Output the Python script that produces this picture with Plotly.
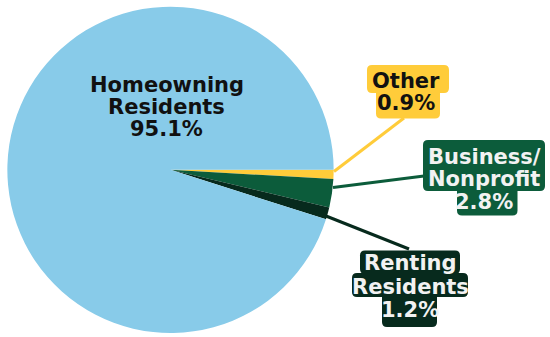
import plotly.graph_objects as go

# Share of properties by owner type
categories = ["Other", "Business/Nonprofit", "Renting Residents", "Homeowning Residents"]
values = [0.9, 2.8, 1.2, 95.1]
slice_colors = ["#FFCC3A", "#0C5C3B", "#072A1D", "#88CBE9"]

W, H = 550, 337
FONT = "DejaVu Sans"


def px(x):
    return x / W


def py(y):
    return 1 - y / H


def rrect(x0, y0, x1, y1, r=5):
    """Rounded rectangle path (pixel input, paper output)."""
    pts = [
        ("M", [(x0 + r, y0)]),
        ("L", [(x1 - r, y0)]),
        ("Q", [(x1, y0), (x1, y0 + r)]),
        ("L", [(x1, y1 - r)]),
        ("Q", [(x1, y1), (x1 - r, y1)]),
        ("L", [(x0 + r, y1)]),
        ("Q", [(x0, y1), (x0, y1 - r)]),
        ("L", [(x0, y0 + r)]),
        ("Q", [(x0, y0), (x0 + r, y0)]),
    ]
    s = ""
    for cmd, ps in pts:
        s += cmd + " " + " ".join(f"{px(a):.5f},{py(b):.5f}" for a, b in ps) + " "
    return s + "Z"


fig = go.Figure(
    go.Pie(
        labels=categories,
        values=values,
        marker=dict(colors=slice_colors, line=dict(width=0)),
        sort=False,
        direction="clockwise",
        rotation=90,
        textinfo="none",
        hoverinfo="label+percent",
        domain=dict(x=[px(7), px(334)], y=[py(333), py(6.7)]),
        showlegend=False,
    )
)

shapes = []
annotations = []

# leader lines from slices to their labels
leaders = [
    ((334, 171.5), (404, 118), slice_colors[0]),
    ((333, 187.5), (424, 176), slice_colors[1]),
    ((326, 216), (409, 249), slice_colors[2]),
]
for (xa, ya), (xb, yb), c in leaders:
    shapes.append(dict(type="line", xref="paper", yref="paper",
                       x0=px(xa), y0=py(ya), x1=px(xb), y1=py(yb),
                       line=dict(color=c, width=3), layer="above"))

# label boxes: (x0, y0, x1, y1) per row of text
label_boxes = [
    (slice_colors[0], [(367, 65, 449, 93), (376, 88, 440, 118.5)]),
    (slice_colors[1], [(423, 140, 545, 191), (457, 185, 517.5, 215.5)]),
    (slice_colors[2], [(360, 250.5, 460, 274), (352, 273, 468, 297), (382, 292, 437, 327)]),
]
for c, boxes in label_boxes:
    for b in boxes:
        shapes.append(dict(type="path", xref="paper", yref="paper",
                           path=rrect(*b), fillcolor=c, line=dict(width=0),
                           layer="above"))


def pct(v):
    return f"{v}%"


# label text rows: (lines, center x, line-centre ys, colour)
label_text = [
    (["Homeowning", "Residents", pct(values[3])], 166.5, [85, 107, 129], "#111111"),
    (["Other", pct(values[0])], 406, [81.5, 103], "#111111"),
    (["Business/", "Nonprofit", pct(values[1])], 484, [156.5, 178.5, 201.5], "#F2F2F2"),
    (["Renting", "Residents", pct(values[2])], 410, [263, 286.5, 310], "#F2F2F2"),
]
for lines, cx, ys, col in label_text:
    for t, y in zip(lines, ys):
        annotations.append(dict(text=t, xref="paper", yref="paper",
                                x=px(cx), y=py(y), xanchor="center", yanchor="middle",
                                showarrow=False, borderpad=0,
                                font=dict(family=FONT, size=21, color=col, weight="bold")))

fig.update_layout(
    width=W, height=H,
    margin=dict(l=0, r=0, t=0, b=0),
    paper_bgcolor="white",
    plot_bgcolor="white",
    shapes=shapes,
    annotations=annotations,
)

fig.write_html("out.html")
